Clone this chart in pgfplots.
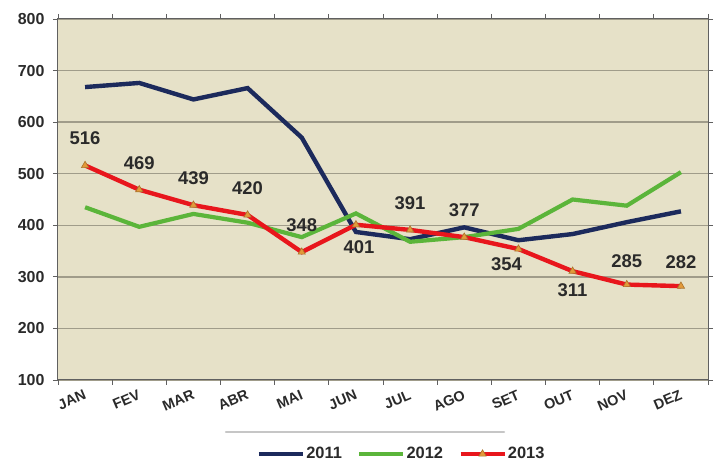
\documentclass[border=0pt]{standalone}
\usepackage{fontspec}
\setmainfont{Liberation Sans}
\usepackage{pgfplots}
\pgfplotsset{compat=1.18}
\definecolor{bg}{HTML}{E6E1C8}
\definecolor{gridc}{HTML}{A09C8A}
\definecolor{navy}{HTML}{1C2A5C}
\definecolor{grn}{HTML}{5BB53A}
\definecolor{rd}{HTML}{E8161C}
\definecolor{mk}{HTML}{E39A3A}
\definecolor{txt}{HTML}{2A2A2A}
\begin{document}
\begin{tikzpicture}[x=1bp,y=1bp]
\begin{axis}[
  at={(0,0)}, anchor=south west,
  scale only axis, width=650bp, height=361bp,
  xmin=-0.5, xmax=11.5, ymin=100, ymax=800,
  ytick={100,200,...,800},
  xtick={-0.5,0.5,...,11.5},
  x tick label as interval,
  xticklabels={JAN,FEV,MAR,ABR,MAI,JUN,JUL,AGO,SET,OUT,NOV,DEZ},
  axis background/.style={fill=bg},
  ymajorgrids, grid style={gridc, line width=1.5bp},
  axis line style={draw=gray!75!black, line width=1bp},
  tick align=outside, major tick length=5bp,
  tick style={draw=gray!75!black, line width=0.8bp},
  yticklabel style={font=\fontsize{16}{18}\selectfont\bfseries, text=txt, xshift=-5bp},
  xticklabel style={font=\fontsize{14.5}{17}\selectfont\bfseries, text=txt, rotate=23, anchor=north east},
  /pgf/number format/assume math mode=true,
  legend style={at={(0.528,-0.205)}, anchor=center, draw=none, fill=none,
    font=\fontsize{16.5}{18}\selectfont\bfseries, text=txt,
    legend columns=3, nodes={inner sep=1.2bp},
    /tikz/every even column/.append style={column sep=14bp}},
  legend image code/.code={\draw[#1, mark repeat=2, mark phase=2] plot coordinates {(0bp,0bp) (22bp,0bp) (44bp,0bp)};},
  clip=false,
]
\addplot[navy, line width=4.4bp, mark=none] table[x=x,y=y] {
x y
0 668
1 676
2 644
3 666
4 570
5 387
6 373
7 396
8 371
9 383
10 406
11 427
};
\addlegendentry{2011}
\addplot[grn, line width=4.2bp, mark=none] table[x=x,y=y] {
x y
0 435
1 397
2 422
3 405
4 377
5 423
6 368
7 377
8 393
9 450
10 438
11 503
};
\addlegendentry{2012}
\addplot[rd, line width=4.4bp, mark=triangle*, mark size=4.2bp,
  mark options={fill=mk, draw=mk!75!black, line width=0.6bp, solid}] table[x=x,y=y] {
x y
0 516
1 469
2 439
3 420
4 348
5 401
6 391
7 377
8 354
9 311
10 285
11 282
};
\addlegendentry{2013}
\addplot[draw=none, mark=none, forget plot,
  nodes near coords, point meta=explicit symbolic,
  visualization depends on={\thisrow{dx} \as \dx},
  visualization depends on={\thisrow{dy} \as \dy},
  every node near coord/.append style={anchor=center, xshift=\dx bp, yshift=\dy bp,
    font=\fontsize{18.5}{20}\selectfont\bfseries, text=txt, inner sep=0pt}]
  table[x=x,y=y,meta=lbl] {
x y lbl dx dy
0 516 516 0 27
1 469 469 0 27
2 439 439 0 27
3 420 420 0 27
4 348 348 0 27
5 401 401 3 -22
6 391 391 0 27
7 377 377 0 27
8 354 354 -12 -15
9 311 311 0 -19
10 285 285 0 23
11 282 282 0 24
};
\end{axis}
\draw[line width=2.5bp, color=gray!45, line cap=round] (168,-52) -- (446,-52);
\pgfresetboundingbox
\path[use as bounding box] (-58,-83) rectangle (660,380);
\end{tikzpicture}
\end{document}
